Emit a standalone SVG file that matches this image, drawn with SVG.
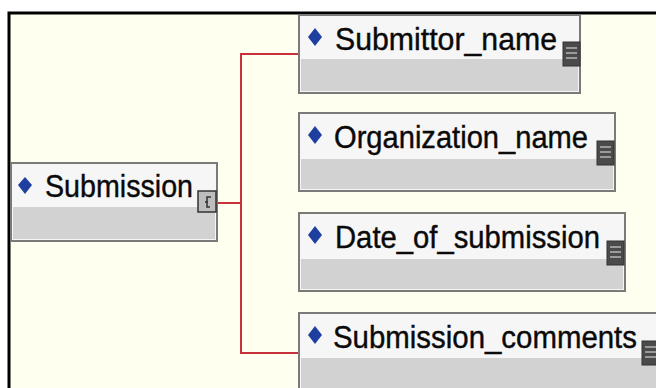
<svg xmlns="http://www.w3.org/2000/svg" width="656" height="388" viewBox="0 0 656 388">
<defs>
<style>
.box{fill:#f6f6f6;stroke:#7a7a7a;stroke-width:2}
.band{fill:#d2d2d2}
.lbl{font-family:"Liberation Sans",Arial,sans-serif;font-size:31px;fill:#0a0a0a;stroke:#0a0a0a;stroke-width:0.4}
.dia{fill:#1e3fa0}
.ico{fill:#4a4a4a;stroke:#333;stroke-width:1}
.icl{stroke:#9a9a9a;stroke-width:2}
.conn{fill:none;stroke:#c8303a;stroke-width:2}
</style>
<g id="listicon">
<rect class="ico" x="0" y="0" width="17" height="24"/>
<line class="icl" x1="3" y1="6" x2="14" y2="6"/>
<line class="icl" x1="3" y1="11" x2="14" y2="11"/>
<line class="icl" x1="3" y1="16" x2="14" y2="16"/>
</g>
</defs>
<rect x="0" y="0" width="656" height="388" fill="#ffffff"/>
<rect x="9" y="13" width="660" height="390" fill="#fffff0" stroke="#000" stroke-width="3"/>
<g id="connectors">
<path class="conn" d="M217 203 H241 M299 54 H241 V353 H299"/>
</g>
<g id="submission">
<rect class="box" x="11" y="163" width="206" height="78"/>
<rect class="band" x="13" y="207" width="202" height="32"/>
<path class="dia" d="M25 177 L32 185 L25 194 L18 185 Z"/>
<text class="lbl" x="45" y="197" textLength="148" lengthAdjust="spacingAndGlyphs">Submission</text>
<rect x="198" y="191" width="18" height="21" fill="#bdbdbd" stroke="#333" stroke-width="1.5"/>
<path d="M211 197 H207 V207 H210 M205 202 H208" fill="none" stroke="#333" stroke-width="1.5"/>
</g>
<g id="submittor_name">
<rect class="box" x="299" y="15" width="281" height="78"/>
<rect class="band" x="301" y="59" width="277" height="32"/>
<path class="dia" d="M315 28 L322 37 L315 46 L308 37 Z"/>
<text class="lbl" x="335" y="50" textLength="222" lengthAdjust="spacingAndGlyphs">Submittor_name</text>
<use href="#listicon" x="563" y="42"/>
</g>
<g id="organization_name">
<rect class="box" x="299" y="113" width="316" height="78"/>
<rect class="band" x="301" y="159" width="312" height="30"/>
<path class="dia" d="M315 126 L322 135 L315 144 L308 135 Z"/>
<text class="lbl" x="334" y="148" textLength="254" lengthAdjust="spacingAndGlyphs">Organization_name</text>
<use href="#listicon" x="597" y="141"/>
</g>
<g id="date_of_submission">
<rect class="box" x="299" y="213" width="326" height="78"/>
<rect class="band" x="301" y="259" width="322" height="30"/>
<path class="dia" d="M315 226 L322 235 L315 244 L308 235 Z"/>
<text class="lbl" x="335" y="248" textLength="265" lengthAdjust="spacingAndGlyphs">Date_of_submission</text>
<use href="#listicon" x="607" y="241"/>
</g>
<g id="submission_comments">
<rect class="box" x="299" y="313" width="370" height="80"/>
<rect class="band" x="301" y="358" width="366" height="34"/>
<path class="dia" d="M315 326 L322 335 L315 344 L308 335 Z"/>
<text class="lbl" x="333" y="348" textLength="304" lengthAdjust="spacingAndGlyphs">Submission_comments</text>
<use href="#listicon" x="642" y="341"/>
</g>
</svg>
